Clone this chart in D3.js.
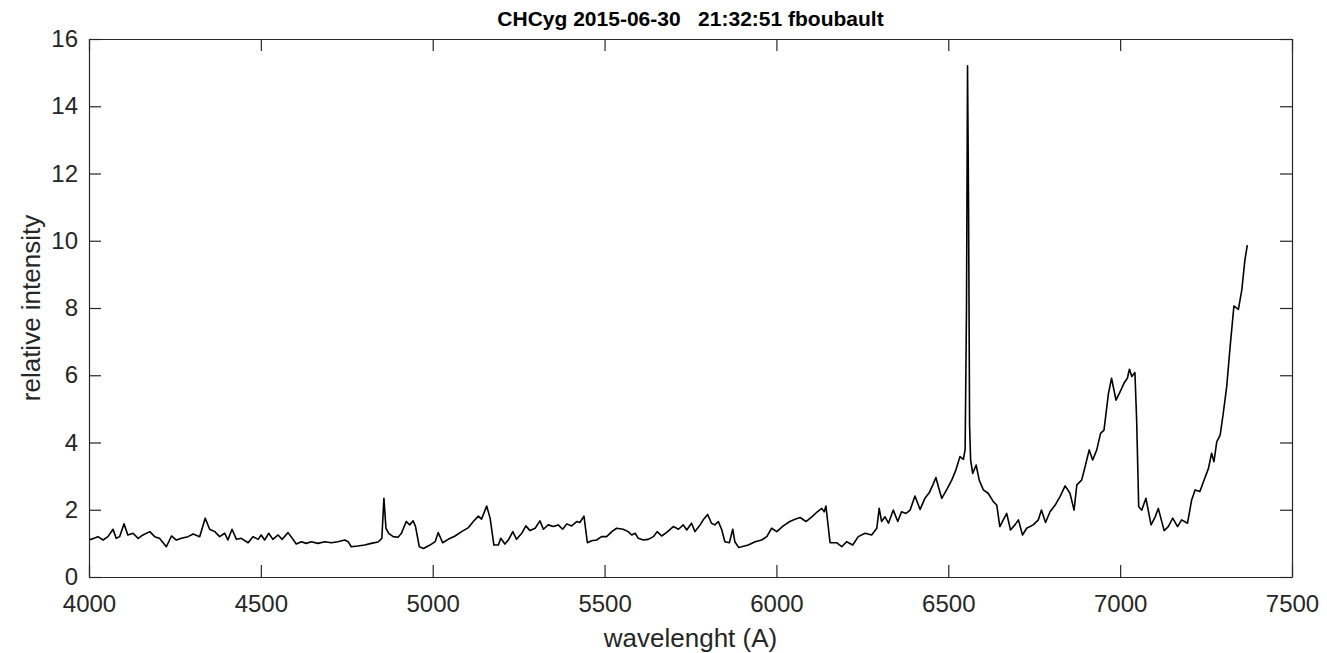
<!DOCTYPE html>
<html>
<head>
<meta charset="utf-8">
<script src="https://cdn.jsdelivr.net/npm/d3@7"></script>
<style>
  html, body { margin: 0; padding: 0; background: #fff; }
  svg { display: block; }
  text { font-family: "Liberation Sans", Arial, Helvetica, sans-serif; }
</style>
</head>
<body>
<svg id="chart" width="1327" height="653"></svg>
<script>
const titleText = "CHCyg 2015-06-30   21:32:51 fboubault";
const xLabel = "wavelenght (A)";
const yLabel = "relative intensity";
const xTicks = [4000, 4500, 5000, 5500, 6000, 6500, 7000, 7500];
const yTicks = [0, 2, 4, 6, 8, 10, 12, 14, 16];

const wavelength = [
  4000, 4007, 4026, 4041, 4055, 4070, 4079, 4089, 4102, 4113, 4128, 4143, 4157, 4177, 4191, 4205,
  4225, 4240, 4254, 4269, 4288, 4303, 4322, 4338, 4351, 4366, 4380, 4395, 4404, 4416, 4429, 4443,
  4463, 4477, 4492, 4501, 4511, 4523, 4535, 4550, 4562, 4579, 4588, 4603, 4618, 4632, 4647, 4666,
  4686, 4705, 4724, 4744, 4754, 4763, 4782, 4802, 4821, 4841, 4852, 4858, 4864, 4872, 4885, 4899,
  4909, 4923, 4933, 4943, 4950, 4961, 4973, 4992, 5007, 5016, 5029, 5045, 5065, 5084, 5104, 5118,
  5133, 5142, 5157, 5167, 5178, 5191, 5198, 5210, 5220, 5233, 5244, 5259, 5271, 5283, 5298, 5312,
  5322, 5336, 5351, 5365, 5378, 5390, 5404, 5419, 5428, 5440, 5450, 5462, 5477, 5491, 5506, 5521,
  5535, 5554, 5569, 5579, 5589, 5598, 5613, 5627, 5642, 5653, 5666, 5680, 5700, 5715, 5729, 5739,
  5753, 5763, 5778, 5787, 5800, 5811, 5821, 5831, 5841, 5850, 5863, 5873, 5879, 5890, 5899, 5918,
  5938, 5957, 5972, 5986, 6001, 6020, 6039, 6054, 6069, 6086, 6103, 6119, 6132, 6139, 6144, 6156,
  6175, 6190, 6204, 6222, 6238, 6258, 6277, 6292, 6299, 6306, 6316, 6326, 6340, 6353, 6364, 6377,
  6389, 6403, 6418, 6432, 6445, 6455, 6464, 6471, 6481, 6495, 6510, 6522, 6534, 6544, 6549, 6553,
  6556, 6559, 6562, 6565, 6571, 6581, 6590, 6602, 6616, 6631, 6641, 6650, 6660, 6670, 6681, 6694,
  6704, 6716, 6728, 6747, 6762, 6771, 6783, 6796, 6811, 6825, 6840, 6854, 6866, 6874, 6888, 6898,
  6910, 6920, 6932, 6943, 6953, 6966, 6975, 6988, 7000, 7011, 7021, 7027, 7034, 7043, 7048, 7054,
  7063, 7075, 7090, 7102, 7111, 7128, 7140, 7153, 7167, 7179, 7196, 7208, 7218, 7232, 7244, 7257,
  7266, 7273, 7281, 7291, 7300, 7310, 7320, 7331, 7344, 7354, 7363, 7370
];
const intensity = [
  1.12, 1.12, 1.20, 1.10, 1.20, 1.42, 1.15, 1.20, 1.58, 1.25, 1.30, 1.15, 1.25, 1.35, 1.20, 1.15,
  0.90, 1.22, 1.10, 1.15, 1.20, 1.28, 1.20, 1.75, 1.42, 1.35, 1.20, 1.30, 1.10, 1.42, 1.12, 1.15,
  1.02, 1.20, 1.12, 1.25, 1.10, 1.30, 1.12, 1.25, 1.12, 1.32, 1.20, 0.98, 1.05, 1.00, 1.05, 1.00,
  1.05, 1.02, 1.05, 1.10, 1.05, 0.90, 0.92, 0.95, 1.00, 1.04, 1.15, 2.34, 1.45, 1.30, 1.20, 1.18,
  1.30, 1.65, 1.55, 1.67, 1.50, 0.90, 0.85, 0.95, 1.05, 1.32, 1.02, 1.12, 1.22, 1.35, 1.47, 1.65,
  1.81, 1.72, 2.11, 1.75, 0.95, 0.95, 1.15, 0.98, 1.10, 1.35, 1.12, 1.30, 1.52, 1.38, 1.45, 1.67,
  1.42, 1.55, 1.50, 1.55, 1.42, 1.58, 1.52, 1.65, 1.62, 1.81, 1.02, 1.08, 1.10, 1.20, 1.20, 1.35,
  1.45, 1.42, 1.35, 1.25, 1.30, 1.15, 1.10, 1.12, 1.20, 1.35, 1.22, 1.32, 1.50, 1.42, 1.55, 1.40,
  1.60, 1.35, 1.55, 1.70, 1.86, 1.60, 1.55, 1.65, 1.40, 1.05, 1.02, 1.42, 1.05, 0.88, 0.90, 0.95,
  1.05, 1.10, 1.20, 1.45, 1.35, 1.52, 1.65, 1.72, 1.77, 1.65, 1.79, 1.94, 2.04, 1.94, 2.11, 1.02,
  1.02, 0.90, 1.05, 0.95, 1.20, 1.30, 1.25, 1.45, 2.04, 1.65, 1.79, 1.60, 1.99, 1.65, 1.94, 1.89,
  1.99, 2.41, 2.01, 2.34, 2.51, 2.74, 2.96, 2.69, 2.34, 2.59, 2.88, 3.18, 3.58, 3.50, 3.80, 8.00,
  15.20, 11.00, 4.50, 3.48, 3.08, 3.33, 2.88, 2.59, 2.49, 2.24, 2.14, 1.50, 1.70, 1.89, 1.40, 1.55,
  1.70, 1.25, 1.45, 1.55, 1.70, 1.99, 1.62, 1.94, 2.14, 2.39, 2.71, 2.49, 1.99, 2.74, 2.88, 3.28,
  3.78, 3.48, 3.78, 4.27, 4.37, 5.46, 5.91, 5.26, 5.51, 5.76, 5.91, 6.18, 5.96, 6.08, 4.67, 2.09,
  1.99, 2.34, 1.55, 1.79, 2.04, 1.38, 1.50, 1.75, 1.50, 1.70, 1.60, 2.29, 2.59, 2.54, 2.88, 3.23,
  3.68, 3.43, 4.02, 4.22, 4.87, 5.66, 6.85, 8.06, 7.96, 8.54, 9.43, 9.87
];

const margin = { left: 89, right: 1327 - 1292, top: 39, bottom: 653 - 577 };
const W = 1327, H = 653;
const svg = d3.select("#chart");
const x = d3.scaleLinear().domain([4000, 7500]).range([margin.left, W - margin.right]);
const y = d3.scaleLinear().domain([0, 16]).range([H - margin.bottom, margin.top]);
const axisColor = "#262626";
const tickLen = 12;

const data = wavelength.map((w, i) => [w, intensity[i]]);

// spectrum line
svg.append("path")
  .datum(data)
  .attr("fill", "none")
  .attr("stroke", "#000")
  .attr("stroke-width", 1.6)
  .attr("stroke-linejoin", "round")
  .attr("d", d3.line().x(d => x(d[0])).y(d => y(d[1])));

function styleAxis(g) {
  g.attr("font-family", null);
  g.select(".domain").attr("stroke", axisColor).attr("stroke-width", 1.2);
  g.selectAll(".tick line").attr("stroke", axisColor).attr("stroke-width", 1.2);
  g.selectAll(".tick text").attr("fill", axisColor).style("font-size", "24px");
}

svg.append("g")
  .attr("transform", `translate(0,${y(0)})`)
  .call(d3.axisBottom(x).tickValues(xTicks).tickSizeInner(-tickLen).tickSizeOuter(0).tickPadding(18).tickFormat(d3.format("d")))
  .call(styleAxis);
svg.append("g")
  .attr("transform", `translate(0,${y(16)})`)
  .call(d3.axisTop(x).tickValues(xTicks).tickSizeInner(-tickLen).tickSizeOuter(0).tickFormat(""))
  .call(styleAxis);
svg.append("g")
  .attr("transform", `translate(${x(4000)},0)`)
  .call(d3.axisLeft(y).tickValues(yTicks).tickSizeInner(-tickLen).tickSizeOuter(0).tickPadding(11).tickFormat(d3.format("d")))
  .call(styleAxis);
svg.append("g")
  .attr("transform", `translate(${x(7500)},0)`)
  .call(d3.axisRight(y).tickValues(yTicks).tickSizeInner(-tickLen).tickSizeOuter(0).tickFormat(""))
  .call(styleAxis);

// title
svg.append("text")
  .attr("x", (x(4000) + x(7500)) / 2)
  .attr("y", 26)
  .attr("text-anchor", "middle")
  .style("white-space", "pre")
  .style("font-weight", "bold")
  .style("font-size", "21px")
  .attr("fill", "#000")
  .text(titleText);

// x label
svg.append("text")
  .attr("x", (x(4000) + x(7500)) / 2)
  .attr("y", 647)
  .attr("text-anchor", "middle")
  .style("font-size", "26px")
  .attr("fill", axisColor)
  .text(xLabel);

// y label
svg.append("text")
  .attr("transform", `translate(40,${(y(0) + y(16)) / 2}) rotate(-90)`)
  .attr("text-anchor", "middle")
  .style("font-size", "26px")
  .attr("fill", axisColor)
  .text(yLabel);
</script>
</body>
</html>
